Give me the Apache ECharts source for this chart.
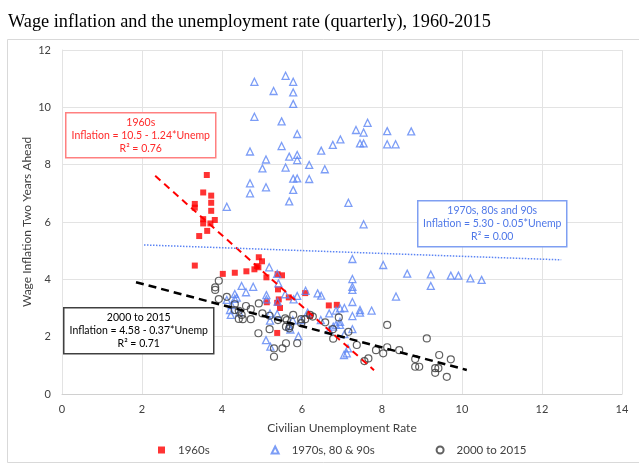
<!DOCTYPE html>
<html>
<head>
<meta charset="utf-8">
<script src="https://cdn.jsdelivr.net/npm/echarts@6/dist/echarts.min.js"></script>
<style>
  html, body { margin: 0; padding: 0; background: #fff; }
  #chart { width: 639px; height: 468px; }
</style>
</head>
<body>
<div id="chart"></div>
<script>
// 1960s [unemployment, wage inflation two years ahead]
var data1960s = [
    [3.62, 7.64], [3.53, 7.03], [3.73, 6.92], [3.73, 6.67], [3.73, 6.39], [3.32, 6.63],
    [3.32, 6.50], [3.53, 6.10], [3.53, 5.95], [3.71, 5.95], [3.82, 6.07], [3.63, 5.69],
    [3.43, 5.51], [3.32, 4.48], [4.02, 4.19], [4.32, 4.23], [4.61, 4.28], [4.81, 4.35],
    [4.91, 4.42], [4.87, 4.46], [4.92, 4.77], [5.00, 4.63], [5.11, 4.07], [5.39, 4.18],
    [5.50, 4.14], [5.40, 3.65], [5.67, 3.37], [5.42, 3.30], [5.38, 3.18], [5.45, 3.00],
    [5.12, 3.20], [5.38, 2.13], [6.08, 3.52], [6.20, 2.72], [6.67, 3.09], [6.87, 3.11]
];
// 1970s, 80s & 90s
var data7090s = [
    [4.81, 10.89], [5.59, 11.10], [5.78, 10.89], [5.29, 10.57], [5.78, 10.52], [5.78, 10.12],
    [4.81, 9.67], [5.49, 9.51], [5.88, 9.07], [5.49, 8.65], [4.70, 8.46], [5.68, 8.28],
    [5.88, 8.34], [5.88, 8.16], [5.10, 8.18], [5.01, 7.87], [5.59, 7.90], [6.18, 7.99],
    [6.57, 7.84], [5.78, 7.51], [5.88, 7.52], [6.18, 7.50], [4.70, 7.35], [5.10, 7.21],
    [4.70, 7.00], [5.78, 7.12], [5.68, 6.72], [4.12, 6.53], [6.48, 8.49], [6.77, 8.69],
    [6.96, 8.88], [7.35, 9.21], [7.64, 9.46], [7.54, 9.12], [7.45, 8.74], [7.54, 8.74],
    [8.13, 9.17], [8.73, 9.16], [8.13, 8.71], [8.34, 8.71], [7.16, 6.67], [7.54, 5.92],
    [7.26, 4.71], [8.03, 4.50], [8.63, 4.20], [9.22, 4.17], [9.72, 4.13], [9.91, 4.13],
    [10.21, 4.03], [10.49, 3.98], [9.22, 3.77], [8.35, 3.40], [7.26, 4.01], [7.26, 3.74],
    [7.26, 3.63], [7.26, 3.21], [7.26, 2.72], [7.26, 2.26], [6.48, 3.43], [7.06, 3.00],
    [6.95, 2.99], [6.85, 2.91], [6.68, 2.81], [7.45, 2.93], [7.45, 2.84], [7.74, 2.91],
    [6.47, 2.58], [6.95, 2.52], [6.95, 2.41], [6.85, 2.41], [6.78, 2.35], [6.68, 2.23],
    [7.06, 2.09], [7.12, 1.42], [7.05, 1.36], [7.15, 1.59], [5.18, 4.42], [5.38, 4.19],
    [4.49, 3.77], [4.78, 3.74], [4.60, 3.55], [4.32, 3.49], [4.32, 3.32], [4.24, 3.10],
    [5.11, 3.45], [5.11, 3.30], [5.39, 3.22], [5.58, 3.48], [5.88, 3.42], [5.79, 3.30],
    [5.38, 2.79], [5.20, 2.81], [4.43, 2.85], [4.20, 2.93], [5.20, 2.56], [5.77, 2.57],
    [5.98, 2.58], [5.10, 1.88], [5.21, 1.65], [5.91, 2.02], [5.67, 2.36], [5.71, 2.25],
    [6.14, 2.84], [6.39, 3.51], [4.12, 3.28], [4.22, 2.76], [5.41, 3.86], [6.09, 3.60],
    [4.37, 3.36]
];
// 2000 to 2015
var data2000s = [
    [3.92, 3.95], [3.83, 3.72], [3.83, 3.63], [3.92, 3.31], [4.12, 3.39], [4.32, 3.13],
    [4.32, 2.93], [4.42, 2.90], [4.60, 3.07], [4.72, 2.96], [4.49, 2.76], [4.42, 2.62],
    [4.52, 2.61], [4.72, 2.61], [4.92, 3.16], [5.01, 2.81], [5.19, 2.73], [4.91, 2.12],
    [5.19, 2.26], [5.30, 1.59], [5.30, 1.30], [5.51, 1.59], [5.60, 1.77], [5.40, 2.58],
    [5.62, 2.58], [5.60, 2.35], [5.68, 2.29], [5.78, 2.76], [5.88, 1.77], [5.98, 2.61],
    [5.98, 2.47], [6.20, 2.76], [6.27, 2.70], [5.58, 2.64], [5.70, 2.37], [6.08, 2.61],
    [6.58, 2.50], [6.77, 2.26], [6.78, 1.93], [6.92, 2.67], [7.16, 2.17], [7.37, 1.71],
    [7.56, 1.15], [7.66, 1.24], [7.85, 1.53], [8.03, 1.42], [8.13, 1.63], [8.13, 2.41],
    [8.43, 1.53], [8.83, 1.22], [8.83, 0.95], [8.93, 0.95], [9.12, 1.94], [9.43, 1.36],
    [9.33, 0.90], [9.41, 0.90], [9.33, 0.74], [9.62, 0.60], [9.72, 1.21]
];
// trend line end points
var trend1960s = [[2.33, 7.61], [7.80, 0.83]];
var trend7090s = [[2.05, 5.20], [12.48, 4.68]];
var trend2000s = [[1.85, 3.90], [10.12, 0.84]];

var seriesNames = ['1960s', '1970s, 80 & 90s', '2000 to 2015'];
var note1960s = ['1960s', 'Inflation = 10.5 - 1.24*Unemp', 'R² = 0.76'];
var note7090s = ['1970s, 80s and 90s', 'Inflation = 5.30 - 0.05*Unemp', 'R² = 0.00'];
var note2000s = ['2000 to 2015', 'Inflation = 4.58 - 0.37*Unemp', 'R² = 0.71'];

var font = 'Lato';
var red = '#ff0000';
var blue = '#5b84f4';
var dark = '#3a3a3a';

// boxed regression note, drawn over the plot
function noteBox(x, y, w, h, lines, color, border) {
    return {
        type: 'group',
        left: x,
        top: y,
        z: 100,
        children: [
            {
                type: 'rect',
                z: 100,
                shape: { x: 0, y: 0, width: w, height: h },
                style: { fill: '#fff', stroke: border, lineWidth: 1.5 }
            },
            {
                type: 'text',
                z: 101,
                style: {
                    x: w / 2, y: h / 2,
                    text: lines.join('\n'),
                    align: 'center', verticalAlign: 'middle',
                    fill: color, font: '10.5px ' + font, lineHeight: 13
                }
            }
        ]
    };
}

var myChart = echarts.init(document.getElementById('chart'));
var option = {
    backgroundColor: '#fff',
    animation: false,
    title: {
        text: 'Wage inflation and the unemployment rate (quarterly), 1960-2015',
        left: 3,
        top: 8,
        textStyle: { fontFamily: 'Liberation Serif', fontSize: 18.3, fontWeight: 'normal', color: '#000' }
    },
    grid: { left: 62, right: 17, top: 50, bottom: 74 },
    xAxis: {
        type: 'value',
        min: 0, max: 14, interval: 2,
        name: 'Civilian Unemployment Rate',
        nameLocation: 'middle',
        nameGap: 28,
        nameTextStyle: { fontFamily: font, fontSize: 12, color: '#404040' },
        axisLine: { show: true, lineStyle: { color: '#d0d0d0' } },
        axisTick: { show: false },
        axisLabel: { fontFamily: font, fontSize: 11, color: '#404040', margin: 10 },
        splitLine: { show: true, lineStyle: { color: '#e3e3e3' } }
    },
    yAxis: {
        type: 'value',
        min: 0, max: 12, interval: 2,
        name: 'Wage Inflation Two Years Ahead',
        nameLocation: 'middle',
        nameGap: 29,
        nameMoveOverlap: false,
        nameTextStyle: { fontFamily: font, fontSize: 12, color: '#404040' },
        axisLine: { show: true, lineStyle: { color: '#e3e3e3' } },
        axisTick: { show: false },
        axisLabel: { fontFamily: font, fontSize: 11, color: '#404040', margin: 11 },
        splitLine: { show: true, lineStyle: { color: '#e3e3e3' } }
    },
    legend: {
        data: seriesNames,
        left: 153,
        top: 439,
        itemWidth: 7,
        itemHeight: 7,
        itemGap: 61,
        textStyle: { fontFamily: font, fontSize: 11.5, color: '#404040', padding: [0, 0, 0, 8] }
    },
    graphic: [
        {
            type: 'rect',
            left: 5, top: 37,
            shape: { width: 640, height: 423 },
            style: { fill: 'none', stroke: '#d9d9d9', lineWidth: 1 },
            z: -1
        },
        noteBox(65, 112, 150, 45, note1960s, '#ff2a2a', '#ff8080'),
        noteBox(417, 200, 149, 46, note7090s, '#4f78e8', '#7f9ff2'),
        noteBox(63, 307, 150, 46, note2000s, '#000', '#404040')
    ],
    series: [
        {
            name: seriesNames[0],
            type: 'scatter',
            symbol: 'rect',
            symbolSize: 6,
            itemStyle: { color: red },
            data: data1960s
        },
        {
            name: seriesNames[1],
            type: 'scatter',
            symbol: 'triangle',
            symbolSize: 7,
            itemStyle: { color: 'rgba(255,255,255,0)', borderColor: blue, borderWidth: 1.3 },
            data: data7090s
        },
        {
            name: seriesNames[2],
            type: 'scatter',
            symbol: 'circle',
            symbolSize: 7,
            itemStyle: { color: 'rgba(255,255,255,0)', borderColor: dark, borderWidth: 1.2 },
            data: data2000s
        },
        {
            name: 'trend1960s',
            type: 'line',
            showSymbol: false,
            silent: true,
            lineStyle: { color: red, width: 2, type: [7, 5] },
            data: trend1960s,
            z: 3
        },
        {
            name: 'trend7090s',
            type: 'line',
            showSymbol: false,
            silent: true,
            lineStyle: { color: blue, width: 1.5, type: [1.5, 1.5] },
            data: trend7090s,
            z: 3
        },
        {
            name: 'trend2000s',
            type: 'line',
            showSymbol: false,
            silent: true,
            lineStyle: { color: '#000', width: 2.5, type: [8, 5] },
            data: trend2000s,
            z: 3
        }
    ]
};
myChart.setOption(option);
</script>
</body>
</html>
